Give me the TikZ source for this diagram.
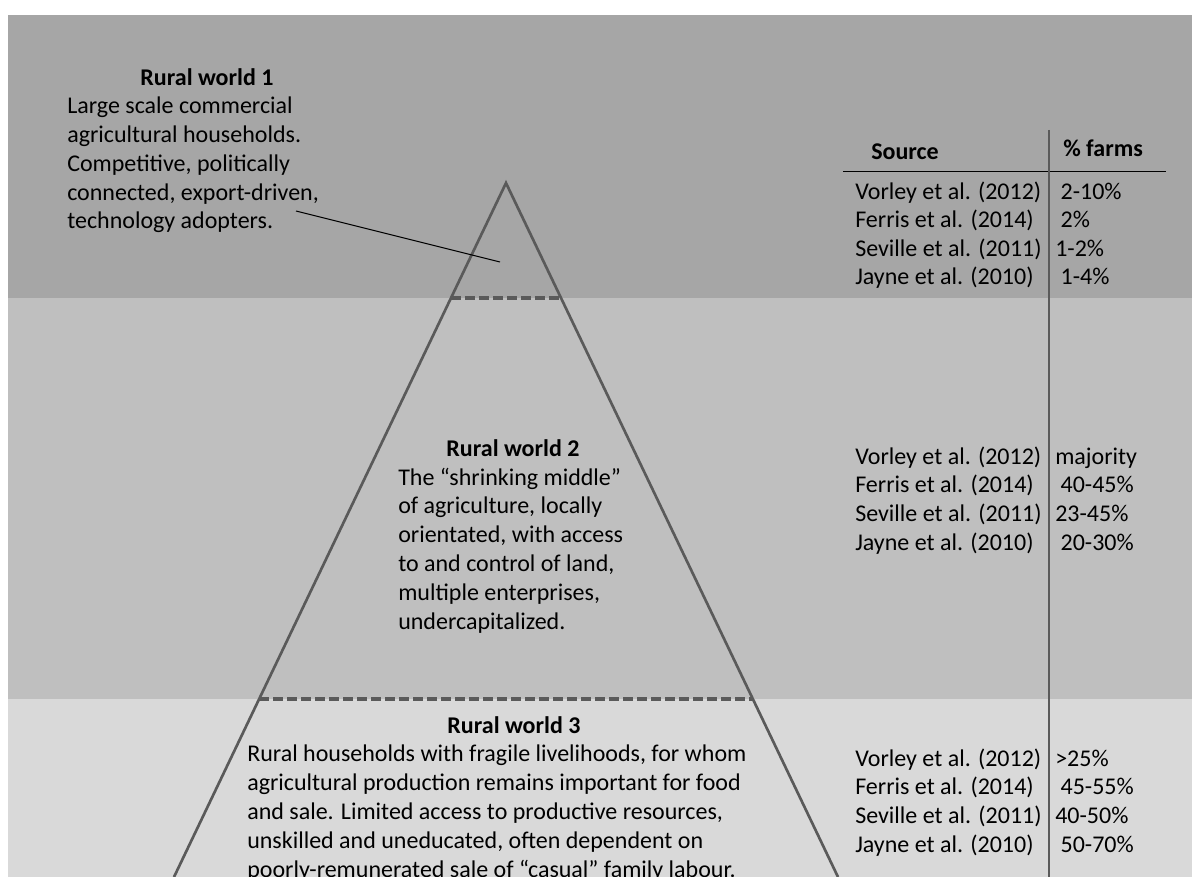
\documentclass[tikz,border=0pt]{standalone}
\usepackage{fontspec}
\setmainfont{Carlito}
\usetikzlibrary{calc}

\definecolor{bandA}{HTML}{A6A6A6}
\definecolor{bandB}{HTML}{BFBFBF}
\definecolor{bandC}{HTML}{D9D9D9}
\definecolor{edgegray}{HTML}{5A5A5A}

\begin{document}
\begin{tikzpicture}[x=0.75pt, y=-0.75pt,
    title/.style={anchor=base, inner sep=0pt, font=\fontsize{18}{21.6}\selectfont\bfseries},
    body/.style={anchor=base west, inner sep=0pt, align=left, font=\fontsize{18}{21.6}\selectfont},
    cell/.style={anchor=base west, inner sep=0pt, align=left, font=\fontsize{18}{21.4}\selectfont},
    edge/.style={draw=edgegray, line width=2pt},
    cut/.style={draw=edgegray, line width=2.4pt, dash pattern=on 7.5pt off 3pt}]
  \useasboundingbox (0,0) rectangle (1192,877);

  % the three bands
  \fill[bandA] (8,15) rectangle (1192,298);
  \fill[bandB] (8,298) rectangle (1192,699);
  \fill[bandC] (8,699) rectangle (1192,877);

  % pyramid
  \coordinate (apex) at (506,183);
  \coordinate (bl) at (174,877);
  \coordinate (br) at (838,877);

  \draw[edge] (bl) -- (apex) -- (br);
  \draw[cut] ($(apex)!0.1657!(bl)$) -- ($(apex)!0.1657!(br)$);
  \draw[cut] ($(apex)!0.7435!(bl)$) -- ($(apex)!0.7435!(br)$);

  % rural world 1 (base = last line)
  \node (rw1) at (207,86) [title] {Rural world 1};
  \node (rw1txt) at (67,229) [body] {Large scale commercial\\
    agricultural households.\\
    Competitive, politically\\
    connected, export-driven,\\
    technology adopters.};
  \coordinate (lead) at (296,211);
  \coordinate (tip) at (500,262);
  \draw[line width=0.75pt] (lead) -- (tip);

  % rural world 2
  \node (rw2) at (513,456) [title] {Rural world 2};
  \node (rw2txt) at (398,629) [body] {The “shrinking middle”\\
    of agriculture, locally\\
    orientated, with access\\
    to and control of land,\\
    multiple enterprises,\\
    undercapitalized.};

  % rural world 3
  \node (rw3) at (514,733) [title] {Rural world 3};
  \node (rw3txt) at (247,877) [body] {Rural households with fragile livelihoods, for whom\\
    agricultural production remains important for food\\
    and sale. Limited access to productive resources,\\
    unskilled and uneducated, often dependent on\\
    poorly-remunerated sale of “casual” family labour.};

  % table
  \node (src) at (905,160) [title] {Source};
  \node (pct) at (1063,157) [title, anchor=base west] {\% farms};
  \coordinate (ruleL) at (843,172);
  \coordinate (ruleR) at (1166,172);
  \coordinate (colT) at (1049,130);
  \coordinate (colB) at (1049,877);
  \draw[line width=0.75pt] (ruleL) -- (ruleR);
  \draw[edgegray, line width=1pt] (colT) -- (colB);

  \node (src1) at (855,285) [cell] {Vorley et al. (2012)\\Ferris et al. (2014)\\Seville et al. (2011)\\Jayne et al. (2010)};
  \node (val1) at (1055,285) [cell] {\hspace*{4pt}2-10\%\\\hspace*{4pt}2\%\\1-2\%\\\hspace*{4pt}1-4\%};

  \node (src2) at (855,550) [cell] {Vorley et al. (2012)\\Ferris et al. (2014)\\Seville et al. (2011)\\Jayne et al. (2010)};
  \node (val2) at (1055,550) [cell] {majority\\\hspace*{4pt}40-45\%\\23-45\%\\\hspace*{4pt}20-30\%};

  \node (src3) at (855,852) [cell] {Vorley et al. (2012)\\Ferris et al. (2014)\\Seville et al. (2011)\\Jayne et al. (2010)};
  \node (val3) at (1055,852) [cell] {>25\%\\\hspace*{4pt}45-55\%\\40-50\%\\\hspace*{4pt}50-70\%};
\end{tikzpicture}
\end{document}
